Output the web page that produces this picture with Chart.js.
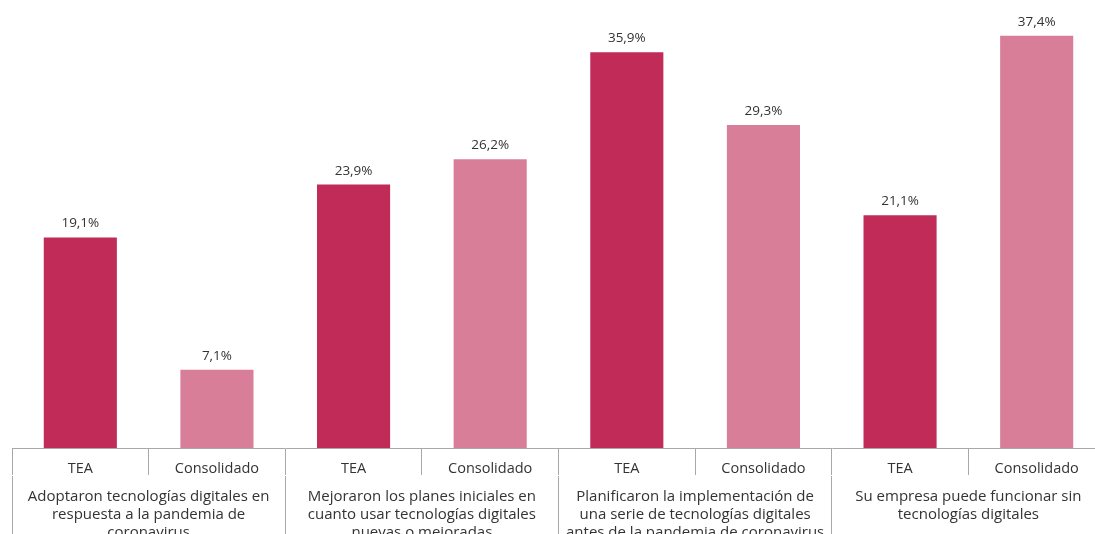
<!DOCTYPE html>
<html lang="es">
<head>
  <meta charset="UTF-8">
  <title>tecnologías digitales</title>
  <script src="https://cdn.jsdelivr.net/npm/chart.js"></script>
  <style>
    html, body { margin: 0; padding: 0; background: #fff; overflow: hidden; }
    #wrap { width: 1095px; height: 534px; overflow: hidden; }
  </style>
</head>
<body>
  <div id="wrap"><canvas id="chart" width="1110" height="534"></canvas></div>

  <script>
    const categories = ["TEA", "Consolidado", "TEA", "Consolidado", "TEA", "Consolidado", "TEA", "Consolidado"]
    const groups = [
      ["Adoptaron tecnologías digitales en", "respuesta a la pandemia de", "coronavirus"],
      ["Mejoraron los planes iniciales en", "cuanto usar tecnologías digitales", "nuevas o mejoradas"],
      ["Planificaron la implementación de", "una serie de tecnologías digitales", "antes de la pandemia de coronavirus"],
      ["Su empresa puede funcionar sin", "tecnologías digitales"]
    ]
    const values = [19.1, 7.1, 23.9, 26.2, 35.9, 29.3, 21.1, 37.4]

    const teaColor = '#C02B58'
    const consColor = '#D87E98'
    const lineColor = '#A8A8A8'
    const font = "'Open Sans', sans-serif"

    const valueLabels = {
      id: 'valueLabels',
      afterDatasetsDraw(chart) {
        const ctx = chart.ctx
        const meta = chart.getDatasetMeta(0)
        ctx.save()
        ctx.font = '13.5px ' + font
        ctx.fillStyle = '#333'
        ctx.textAlign = 'center'
        ctx.textBaseline = 'alphabetic'
        meta.data.forEach((bar, i) => {
          ctx.fillText(values[i].toFixed(1).replace('.', ',') + '%', bar.x, bar.y - 10)
        })
        ctx.restore()
      }
    }

    new Chart(document.getElementById('chart'), {
      type: 'bar',
      data: {
        labels: categories,
        datasets: [{
          data: values,
          backgroundColor: categories.map(c => c === 'TEA' ? teaColor : consColor),
          borderWidth: 0,
          categoryPercentage: 1,
          barPercentage: 0.535
        }]
      },
      options: {
        responsive: false,
        animation: false,
        layout: { padding: { top: 7, left: 12, right: 5, bottom: 0 } },
        plugins: { legend: { display: false }, tooltip: { enabled: false } },
        scales: {
          y: { display: false, min: 0, max: 40 },
          x: {
            position: 'bottom',
            grid: { offset: true, drawOnChartArea: false, color: lineColor, tickLength: 27 },
            border: { display: true, color: lineColor },
            ticks: {
              autoSkip: false, maxRotation: 0, padding: -15,
              color: '#333', font: { family: font, size: 14.5 }
            },
            afterFit: (scale) => { scale.height = 28 }
          },
          x2: {
            type: 'category',
            position: 'bottom',
            labels: groups,
            grid: { offset: true, drawOnChartArea: false, color: lineColor, tickLength: 60 },
            border: { display: false },
            ticks: {
              autoSkip: false, maxRotation: 0, padding: -48,
              color: '#333', font: { family: font, size: 15, lineHeight: 1.2 }
            },
            afterFit: (scale) => { scale.height = 58 }
          }
        }
      },
      plugins: [valueLabels]
    })
  </script>
</body>
</html>
